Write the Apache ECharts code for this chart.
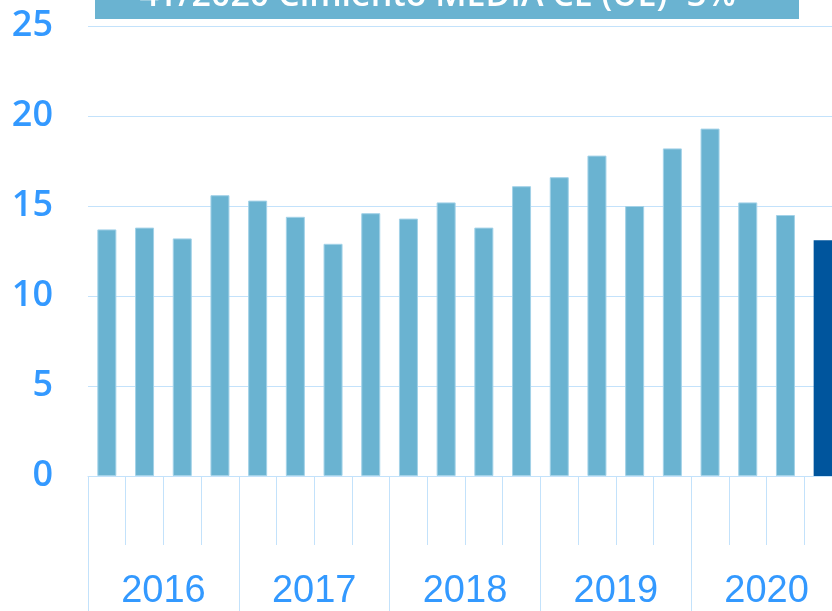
<!DOCTYPE html>
<html>
<head>
<meta charset="utf-8">
<script src="https://cdn.jsdelivr.net/npm/echarts@6/dist/echarts.min.js"></script>
<style>
    html, body { margin: 0; padding: 0; background: #fff; overflow: hidden; }
    #chart { width: 860px; height: 611px; }
</style>
</head>
<body>
<div id="chart"></div>
<script>
    // datos trimestrales
    var quarters = ['1T16','2T16','3T16','4T16','1T17','2T17','3T17','4T17','1T18','2T18','3T18','4T18',
                    '1T19','2T19','3T19','4T19','1T20','2T20','3T20','4T20'];
    var years = ['2016', '2017', '2018', '2019', '2020'];
    var values = [13.7, 13.8, 13.2, 15.6, 15.3, 14.4, 12.9, 14.6, 14.3, 15.2, 13.8, 16.1,
                  16.6, 17.8, 15.0, 18.2, 19.3, 15.2, 14.5, 13.1];
    var yTicks = [0, 5, 10, 15, 20, 25];
    var bannerText = '• 4T/2020 Cimiento MEDIA CE (UE) -3%';

    var lightBlue = '#6AB3D1';
    var darkBlue = '#00559D';
    var lineColor = '#C3E2FB';
    var textBlue = '#3399FF';

    var barData = [];
    for (var i = 0; i < values.length; i++) {
        barData.push({
            value: values[i],
            itemStyle: i === values.length - 1
                ? { color: darkBlue, borderWidth: 0 }
                : { color: lightBlue, borderColor: '#A3D2E8', borderWidth: 1 }
        });
    }

    var chart = echarts.init(document.getElementById('chart'));
    var option = {
        animation: false,
        grid: { left: 88, top: 26, width: 754, height: 452 },
        xAxis: [{
            type: 'category',
            data: quarters,
            axisLine: { show: true, lineStyle: { color: lineColor, width: 1 } },
            axisTick: { show: true, length: 69, interval: 0, lineStyle: { color: lineColor, width: 1 } },
            axisLabel: { show: false }
        }, {
            type: 'category',
            data: years,
            position: 'bottom',
            axisLine: { show: false },
            axisTick: { show: true, length: 140, interval: 0, lineStyle: { color: lineColor, width: 1 } },
            axisLabel: {
                interval: 0,
                margin: 97,
                color: textBlue,
                fontSize: 38,
                fontFamily: 'Liberation Sans Narrow, Liberation Sans',
                lineHeight: 38
            }
        }],
        yAxis: {
            type: 'value',
            min: yTicks[0],
            max: yTicks[yTicks.length - 1],
            interval: 5,
            axisLine: { show: false },
            axisTick: { show: false },
            splitLine: { lineStyle: { color: lineColor, width: 1 } },
            axisLabel: {
                margin: 35,
                color: textBlue,
                fontSize: 36,
                fontWeight: 600,
                fontFamily: 'Open Sans'
            }
        },
        graphic: [{
            type: 'rect',
            shape: { x: 95, y: 0, width: 704, height: 19 },
            style: { fill: lightBlue },
            z: 10
        }, {
            type: 'text',
            x: 118,
            y: -4,
            style: {
                text: bannerText,
                fill: '#fff',
                fontSize: 34,
                fontWeight: 600,
                fontFamily: 'Open Sans',
                verticalAlign: 'middle'
            },
            z: 11
        }],
        series: [{
            type: 'bar',
            xAxisIndex: 0,
            barWidth: 19,
            data: barData
        }]
    };
    chart.setOption(option);
</script>
</body>
</html>
